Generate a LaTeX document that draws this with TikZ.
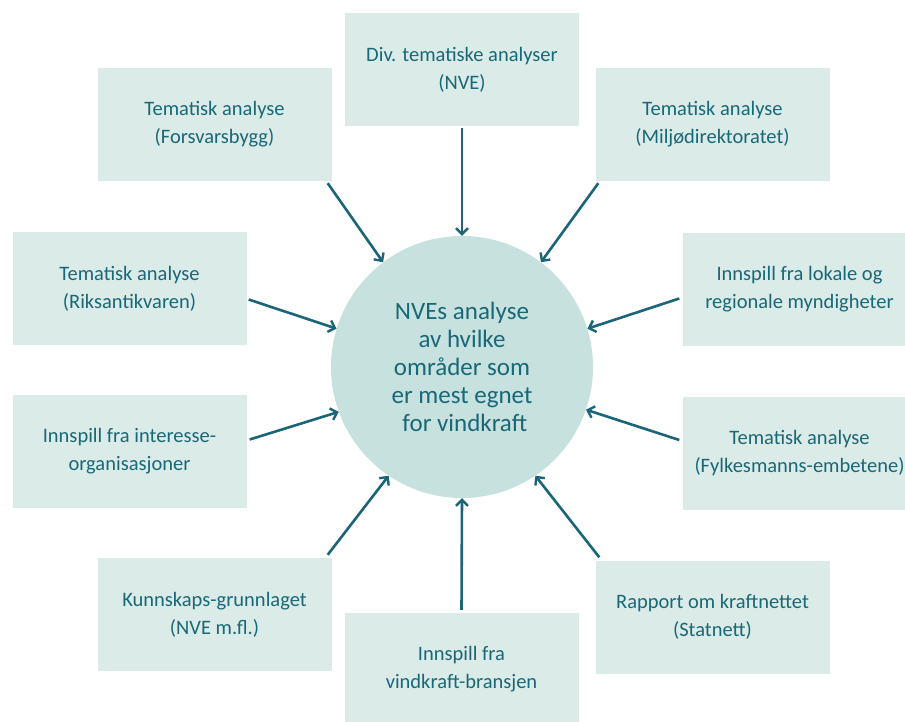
\documentclass[tikz,border=0pt]{standalone}
\usepackage{fontspec}
\setmainfont{Carlito}
\usetikzlibrary{arrows.meta}
\definecolor{boxfill}{HTML}{DAEBE8}
\definecolor{circfill}{HTML}{C7E2DE}
\definecolor{tealtext}{HTML}{186878}
\definecolor{tealline}{HTML}{1A6577}
\tikzset{
  infobox/.style={rectangle, fill=boxfill, draw=none, inner sep=0pt,
    minimum width=234pt, minimum height=113pt, align=center,
    text=tealtext, font=\fontsize{20.5}{28}\selectfont},
  hub/.style={circle, fill=circfill, draw=none, inner sep=0pt,
    minimum size=262pt, align=center, text=tealtext,
    font=\fontsize{25}{28}\selectfont},
  arr/.style={draw=tealline, line width=2.6pt,
    -{Straight Barb[length=6pt,width=12pt,line width=2.4pt]}}
}
\begin{document}
\begin{tikzpicture}[x=1pt,y=-1pt]
\useasboundingbox (0,0) rectangle (905,722);
\clip (0,0) rectangle (905,722);
\fill[white] (0,0) rectangle (905,722);

\node[hub] (c) at (462,367) {NVEs analyse\\av hvilke\\områder som\\er mest egnet\\\ for vindkraft};

\node[infobox] (top)  at (462,69.5)   {Div. tematiske analyser\\(NVE)};
\node[infobox] (fors) at (214.5,124.5) {Tematisk analyse\\(Forsvarsbygg)};
\node[infobox] (milj) at (712.5,124.5) {Tematisk analyse\\(Miljødirektoratet)};
\node[infobox] (riks) at (129.5,288.5) {Tematisk analyse\\(Riksantikvaren)};
\node[infobox] (lok)  at (799.5,289.5) {Innspill fra lokale og\\regionale myndigheter};
\node[infobox] (inter) at (129.5,451.5) {Innspill fra interesse-\\organisasjoner};
\node[infobox] (fylk) at (799.5,453) {Tematisk analyse\\(Fylkesmanns-embetene)};
\node[infobox] (kunn) at (214.5,614.5) {Kunnskaps-grunnlaget\\(NVE m.fl.)};
\node[infobox] (rapp) at (712.5,617) {Rapport om kraftnettet\\(Statnett)};
\node[infobox] (vind) at (461.5,669.5) {Innspill fra\\vindkraft-bransjen};

\draw[arr] ([yshift=-2pt]top.south) -- (c.90);
\draw[arr] ([xshift=-4pt,yshift=-2pt]fors.south east) -- (c.127);
\draw[arr] ([xshift=3pt,yshift=-2pt]milj.south west) -- (c.53);
\draw[arr] ([xshift=2pt,yshift=-11pt]riks.east) -- (c.163);
\draw[arr] ([xshift=-3pt,yshift=-9pt]lok.west) -- (c.17);
\draw[arr] ([xshift=3pt,yshift=12pt]inter.east) -- (c.200);
\draw[arr] ([xshift=-3pt,yshift=13pt]fylk.west) -- (c.-19);
\draw[arr] ([xshift=-4pt,yshift=3pt]kunn.north east) -- (c.-124);
\draw[arr] ([xshift=4pt,yshift=3pt]rapp.north west) -- (c.-56);
\draw[arr] ([yshift=3pt]vind.north) -- (c.-90);
\end{tikzpicture}
\end{document}
